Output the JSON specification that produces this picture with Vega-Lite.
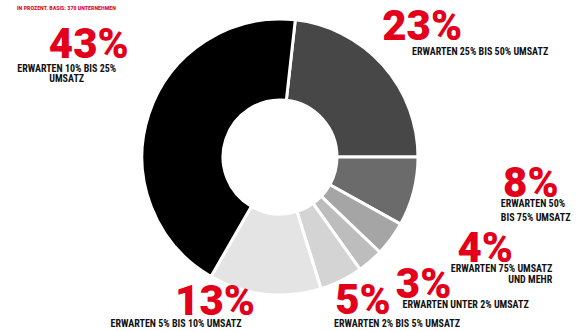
{
  "$schema": "https://vega.github.io/schema/vega-lite/v6.json",
  "width": 560,
  "height": 314,
  "autosize": {"type": "none"},
  "padding": {"left": 0, "top": 0, "right": 20, "bottom": 17},
  "background": "white",
  "title": {
    "text": "IN PROZENT. BASIS: 370 UNTERNEHMEN",
    "anchor": "start",
    "frame": "group",
    "offset": -87,
    "dx": 17,
    "baseline": "bottom",
    "fontSize": 6,
    "font": "Roboto Condensed",
    "fontWeight": "bold",
    "color": "#e2001a"
  },
  "data": {
    "values": [
      {"o": 1, "cat": "25% bis 50%", "value": 23, "label": "23%", "desc": "ERWARTEN 25% BIS 50% UMSATZ"},
      {"o": 2, "cat": "50% bis 75%", "value": 8, "label": "8%", "desc": "ERWARTEN  50%\nBIS 75% UMSATZ"},
      {"o": 3, "cat": "75% und mehr", "value": 4, "label": "4%", "desc": "ERWARTEN 75% UMSATZ\nUND MEHR"},
      {"o": 4, "cat": "unter 2%", "value": 3, "label": "3%", "desc": "ERWARTEN UNTER 2% UMSATZ"},
      {"o": 5, "cat": "2% bis 5%", "value": 5, "label": "5%", "desc": "ERWARTEN 2% BIS 5% UMSATZ"},
      {"o": 6, "cat": "5% bis 10%", "value": 13, "label": "13%", "desc": "ERWARTEN 5% BIS 10% UMSATZ"},
      {"o": 7, "cat": "10% bis 25%", "value": 43, "label": "43%", "desc": "ERWARTEN 10% BIS 25%\nUMSATZ"}
    ]
  },
  "encoding": {
    "theta": {"field": "value", "type": "quantitative", "stack": true, "scale": {"range": [0.11107, 6.39426], "nice": false, "zero": true}},
    "order": {"field": "o", "type": "quantitative"}
  },
  "layer": [
    {
      "mark": {"type": "arc", "outerRadius": 138, "innerRadius": 57, "stroke": "white", "strokeWidth": 3},
      "encoding": {
        "color": {"field": "cat", "type": "nominal", "legend": null,
          "scale": {"domain": ["25% bis 50%", "50% bis 75%", "75% und mehr", "unter 2%", "2% bis 5%", "5% bis 10%", "10% bis 25%"],
                    "range": ["#474747", "#6b6b6b", "#a5a5a5", "#bdbdbd", "#d4d4d4", "#e4e4e4", "#000000"]}}
      }
    },
    {"mark": {"type": "text", "font": "Roboto", "fontWeight": 900, "fontSize": 42, "color": "#e2001a", "align": "center", "baseline": "alphabetic", "radius": 184, "dx": 5, "dy": 6}, "encoding": {"text": {"condition": {"test": "datum.o == 1", "field": "label"}, "value": ""}}},
    {"mark": {"type": "text", "font": "Roboto", "fontWeight": 900, "fontSize": 42, "color": "#e2001a", "align": "center", "baseline": "alphabetic", "radius": 254, "dx": 5, "dy": -24}, "encoding": {"text": {"condition": {"test": "datum.o == 2", "field": "label"}, "value": ""}}},
    {"mark": {"type": "text", "font": "Roboto", "fontWeight": 900, "fontSize": 42, "color": "#e2001a", "align": "center", "baseline": "alphabetic", "radius": 230, "dx": 20, "dy": -31}, "encoding": {"text": {"condition": {"test": "datum.o == 3", "field": "label"}, "value": ""}}},
    {"mark": {"type": "text", "font": "Roboto", "fontWeight": 900, "fontSize": 42, "color": "#e2001a", "align": "center", "baseline": "alphabetic", "radius": 201, "dx": 12, "dy": -11}, "encoding": {"text": {"condition": {"test": "datum.o == 4", "field": "label"}, "value": ""}}},
    {"mark": {"type": "text", "font": "Roboto", "fontWeight": 900, "fontSize": 42, "color": "#e2001a", "align": "center", "baseline": "alphabetic", "radius": 178, "dx": 4, "dy": -2}, "encoding": {"text": {"condition": {"test": "datum.o == 5", "field": "label"}, "value": ""}}},
    {"mark": {"type": "text", "font": "Roboto", "fontWeight": 900, "fontSize": 42, "color": "#e2001a", "align": "center", "baseline": "alphabetic", "radius": 171, "dx": -46, "dy": -12}, "encoding": {"text": {"condition": {"test": "datum.o == 6", "field": "label"}, "value": ""}}},
    {"mark": {"type": "text", "font": "Roboto", "fontWeight": 900, "fontSize": 42, "color": "#e2001a", "align": "center", "baseline": "alphabetic", "radius": 215, "dx": 13, "dy": -32}, "encoding": {"text": {"condition": {"test": "datum.o == 7", "field": "label"}, "value": ""}}},
    {"mark": {"type": "text", "font": "Roboto Condensed", "fontWeight": "bold", "fontSize": 10, "color": "#111111", "align": "center", "baseline": "alphabetic", "lineBreak": "\n", "radius": 184, "dx": 63, "dy": 21}, "encoding": {"text": {"condition": {"test": "datum.o == 1", "field": "desc"}, "value": ""}}},
    {"mark": {"type": "text", "font": "Roboto Condensed", "fontWeight": "bold", "fontSize": 10, "color": "#111111", "align": "left", "baseline": "alphabetic", "lineBreak": "\n", "lineHeight": 14, "radius": 254, "dx": -25, "dy": -14}, "encoding": {"text": {"condition": {"test": "datum.o == 2", "field": "desc"}, "value": ""}}},
    {"mark": {"type": "text", "font": "Roboto Condensed", "fontWeight": "bold", "fontSize": 10, "color": "#111111", "align": "right", "baseline": "alphabetic", "lineBreak": "\n", "lineHeight": 11, "radius": 230, "dx": 87, "dy": -21}, "encoding": {"text": {"condition": {"test": "datum.o == 3", "field": "desc"}, "value": ""}}},
    {"mark": {"type": "text", "font": "Roboto Condensed", "fontWeight": "bold", "fontSize": 10, "color": "#111111", "align": "center", "baseline": "alphabetic", "lineBreak": "\n", "radius": 201, "dx": 54, "dy": -1}, "encoding": {"text": {"condition": {"test": "datum.o == 4", "field": "desc"}, "value": ""}}},
    {"mark": {"type": "text", "font": "Roboto Condensed", "fontWeight": "bold", "fontSize": 10, "color": "#111111", "align": "center", "baseline": "alphabetic", "lineBreak": "\n", "radius": 178, "dx": 38, "dy": 11}, "encoding": {"text": {"condition": {"test": "datum.o == 5", "field": "desc"}, "value": ""}}},
    {"mark": {"type": "text", "font": "Roboto Condensed", "fontWeight": "bold", "fontSize": 10, "color": "#111111", "align": "center", "baseline": "alphabetic", "lineBreak": "\n", "radius": 171, "dx": -85, "dy": 0}, "encoding": {"text": {"condition": {"test": "datum.o == 6", "field": "desc"}, "value": ""}}},
    {"mark": {"type": "text", "font": "Roboto Condensed", "fontWeight": "bold", "fontSize": 10, "color": "#111111", "align": "center", "baseline": "alphabetic", "lineBreak": "\n", "lineHeight": 10, "radius": 215, "dx": -9, "dy": -18}, "encoding": {"text": {"condition": {"test": "datum.o == 7", "field": "desc"}, "value": ""}}}
  ]
}
